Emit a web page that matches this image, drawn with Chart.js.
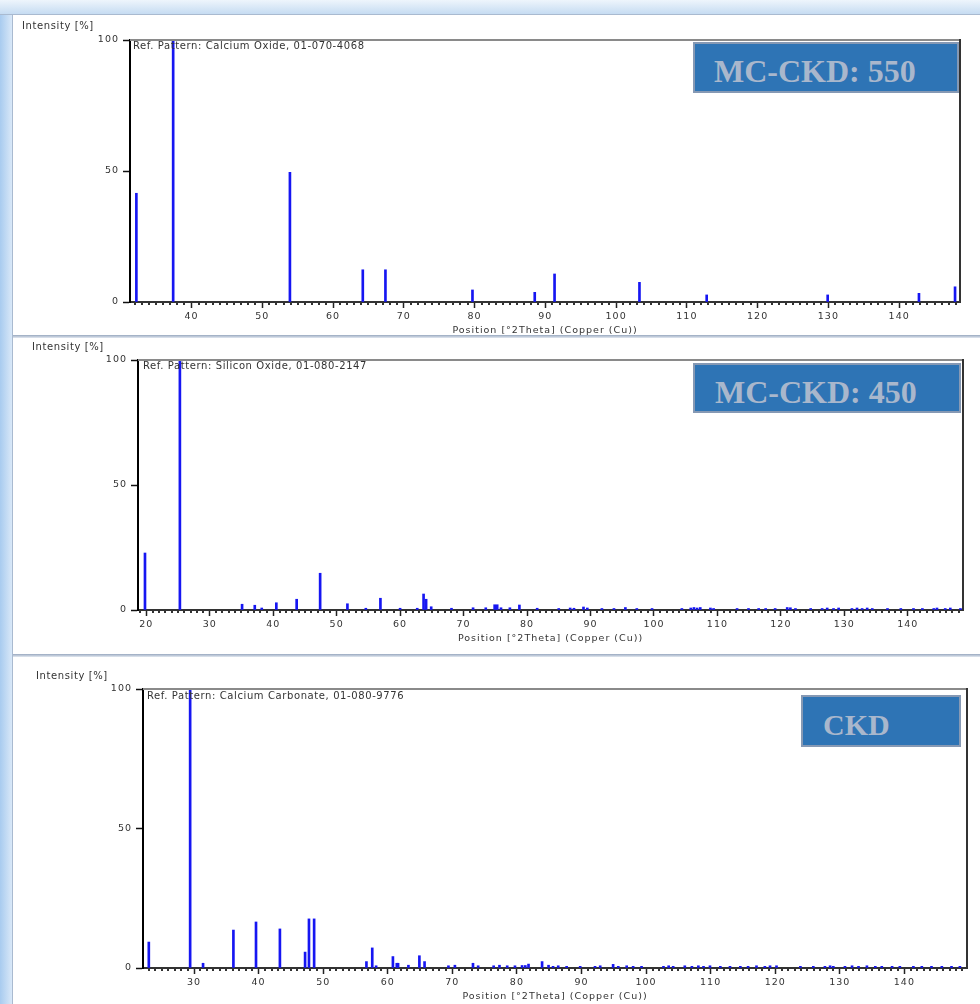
<!DOCTYPE html>
<html>
<head>
<meta charset="utf-8">
<script src="https://cdn.jsdelivr.net/npm/chart.js@4.4.1/dist/chart.umd.min.js"></script>
<style>
html, body { margin: 0; padding: 0; background: #fff; }
body { width: 980px; height: 1004px; position: relative; overflow: hidden; font-family: "DejaVu Sans", sans-serif; }
.frame-left { position: absolute; left: 0; top: 0; width: 12px; height: 1004px; background: linear-gradient(to right, #a8cbef, #d9e8f8); border-right: 1px solid #a9bad0; }
.frame-top { position: absolute; left: 0; top: 0; width: 980px; height: 14px; background: linear-gradient(to bottom, #eef5fc, #c6dcf2); border-bottom: 1px solid #a9bad0; }
.sep { position: absolute; left: 13px; width: 967px; height: 3px; background: linear-gradient(#98a8bf, #e3e9f1); }
canvas { position: absolute; left: 0; }
.lbl { position: absolute; font-size: 10px; line-height: 12px; letter-spacing: 0.6px; color: #333; white-space: nowrap; }
.box { position: absolute; background: #2e74b5; border: 2px solid #8699b4; box-sizing: border-box; }
.box span { position: absolute; white-space: nowrap; color: #a9b7cc; font-family: "Liberation Serif", serif; font-weight: bold; }
</style>
</head>
<body>
<div class="frame-left"></div>
<div class="frame-top"></div>
<div class="sep" style="top:335px"></div>
<div class="sep" style="top:654px"></div>

<canvas id="c1"></canvas>
<canvas id="c2"></canvas>
<canvas id="c3"></canvas>

<div class="lbl" style="left:22px;top:20px">Intensity [%]</div>
<div class="lbl" style="left:32px;top:341px">Intensity [%]</div>
<div class="lbl" style="left:36px;top:670px">Intensity [%]</div>

<div class="lbl" style="left:133px;top:40px">Ref. Pattern: Calcium Oxide, 01-070-4068</div>
<div class="lbl" style="left:143px;top:360px">Ref. Pattern: Silicon Oxide, 01-080-2147</div>
<div class="lbl" style="left:147px;top:690px">Ref. Pattern: Calcium Carbonate, 01-080-9776</div>

<div class="box" style="left:693px;top:42px;width:266px;height:51px"><span style="left:19px;top:11px;font-size:32px;line-height:32px">MC-CKD: 550</span></div>
<div class="box" style="left:693px;top:363px;width:268px;height:50px"><span style="left:20px;top:11px;font-size:32px;line-height:32px">MC-CKD: 450</span></div>
<div class="box" style="left:801px;top:695px;width:160px;height:52px"><span style="left:20px;top:13px;font-size:30px;line-height:30px">CKD</span></div>

<script>
// Calcium Oxide (MC-CKD 550)
const p1Pos = [32.2, 37.4, 53.9, 64.2, 67.4, 79.7, 88.5, 91.3, 103.3, 112.8, 129.9, 142.8, 147.9];
const p1Int = [41.5, 100, 49.5, 12.3, 12.3, 4.6, 3.7, 10.7, 7.5, 2.7, 2.7, 3.3, 5.8];
const p1Range = [31.3, 148.6];
const p1Ticks = [40, 50, 60, 70, 80, 90, 100, 110, 120, 130, 140];

// Silicon Oxide (MC-CKD 450)
const p2Pos = [19.8, 25.3, 35.1, 37.1, 38.2, 40.5, 43.7, 47.4, 51.7, 54.6, 56.9, 60.0, 62.7, 63.7, 64.1, 64.9,
  68.1, 71.5, 73.5, 74.9, 75.3, 75.9, 77.3, 78.8, 81.6,
  85.0, 86.8, 87.4, 88.9, 89.5, 91.8, 93.7, 95.5, 97.3, 99.7,
  104.4, 105.8, 106.3, 106.8, 107.3, 108.9, 109.4,
  113.1, 114.9, 116.5, 117.6, 119.1,
  121.0, 121.5, 122.3, 124.7,
  126.5, 127.3, 128.3, 129.1,
  131.2, 132.0, 132.8, 133.6, 134.4,
  136.8, 138.9, 140.9, 142.3,
  144.1, 144.6, 145.9, 146.7, 148.3];
const p2Int = [22.8, 100, 2.3, 1.9, 0.8, 2.9, 4.3, 14.7, 2.5, 0.7, 4.7, 0.7, 0.7, 6.4, 4.3, 1.3,
  0.7, 0.9, 0.9, 2.1, 2.1, 0.9, 0.9, 2.0, 0.7,
  0.6, 0.8, 0.7, 1.2, 0.8, 0.6, 0.6, 1.0, 0.6, 0.6,
  0.6, 0.8, 1.0, 0.8, 1.0, 0.8, 0.6,
  0.6, 0.6, 0.6, 0.6, 0.6,
  1.0, 0.9, 0.6, 0.6,
  0.6, 0.8, 0.6, 0.8,
  0.6, 0.8, 0.6, 0.8, 0.6,
  0.6, 0.6, 0.6, 0.6,
  0.6, 0.8, 0.6, 0.8, 0.6];
const p2Range = [18.7, 148.7];
const p2Ticks = [20, 30, 40, 50, 60, 70, 80, 90, 100, 110, 120, 130, 140];

// Calcium Carbonate (CKD)
const p3Pos = [23.0, 29.4, 31.4, 36.1, 39.6, 43.3, 47.2, 47.8, 48.6, 56.7, 57.6, 58.2, 60.8, 61.4, 61.6, 63.2, 64.9, 65.7,
  69.4, 70.4, 73.2, 74.0, 76.4, 77.3, 78.5, 79.7, 80.8, 81.3, 81.8, 83.9, 84.9,
  85.6, 86.4, 87.7, 89.8, 92.1, 92.9, 94.9, 95.7, 97.0, 98.0,
  99.3, 102.7, 103.5, 104.2, 106.0, 107.1, 108.1, 108.9, 109.9, 111.5,
  113.0, 114.6, 115.8, 117.1, 118.4, 119.2, 120.2, 123.9, 125.9, 127.7,
  128.5, 129.0, 130.8, 131.9, 132.9, 134.2, 135.5, 136.5, 138.1, 139.3,
  141.4, 142.7, 144.2, 145.8, 147.3, 148.6];
const p3Int = [9.3, 100, 1.7, 13.6, 16.5, 14.0, 5.7, 17.6, 17.6, 2.3, 7.2, 0.8, 4.1, 1.7, 1.7, 1.0, 4.4, 2.3,
  0.8, 1.0, 1.7, 0.8, 0.8, 1.0, 0.8, 0.8, 0.9, 0.9, 1.4, 2.3, 1.0,
  0.6, 0.8, 0.6, 0.6, 0.6, 0.8, 1.3, 0.6, 0.8, 0.6,
  0.6, 0.6, 0.8, 0.6, 0.8, 0.6, 0.8, 0.6, 0.8, 0.6,
  0.6, 0.6, 0.6, 0.8, 0.6, 0.8, 0.8, 0.6, 0.6, 0.6,
  0.8, 0.6, 0.6, 0.8, 0.6, 0.8, 0.6, 0.6, 0.6, 0.6,
  0.6, 0.6, 0.6, 0.6, 0.6, 0.6];
const p3Range = [22.1, 149.7];
const p3Ticks = [30, 40, 50, 60, 70, 80, 90, 100, 110, 120, 130, 140];

const yTicks = [0, 50, 100];
const xTitle = 'Position [°2Theta] (Copper (Cu))';

// where each panel sits on the page
const panels = [
  { id: 'c1', top: 15,  height: 320, plotLeft: 130, plotRight: 960, plotTop: 40,  plotBottom: 302, pos: p1Pos, int: p1Int, range: p1Range, ticks: p1Ticks },
  { id: 'c2', top: 338, height: 316, plotLeft: 138, plotRight: 963, plotTop: 360, plotBottom: 610, pos: p2Pos, int: p2Int, range: p2Range, ticks: p2Ticks },
  { id: 'c3', top: 657, height: 347, plotLeft: 143, plotRight: 967, plotTop: 689, plotBottom: 968, pos: p3Pos, int: p3Int, range: p3Range, ticks: p3Ticks }
];

const X_AXIS_H = 34;

// plot frame + small minor ticks along the x axis
const framePlugin = {
  id: 'frame',
  beforeDraw(chart) {
    chart.ctx.letterSpacing = '1px';
  },
  afterDraw(chart) {
    const { ctx, chartArea: a } = chart;
    const x = chart.scales.x;
    ctx.save();
    ctx.lineWidth = 2;
    ctx.strokeStyle = '#8a8a8a';
    ctx.beginPath(); ctx.moveTo(a.left, a.top); ctx.lineTo(a.right, a.top); ctx.stroke();
    ctx.strokeStyle = '#333';
    ctx.beginPath(); ctx.moveTo(a.right, a.top - 1); ctx.lineTo(a.right, a.bottom); ctx.stroke();
    ctx.fillStyle = '#333';
    for (let v = Math.ceil(x.min); v <= x.max; v++) {
      if (v % 10 === 0) continue;
      const px = x.getPixelForValue(v);
      ctx.fillRect(Math.round(px) - 1, a.bottom + 1, 2, 2);
    }
    ctx.restore();
  }
};

const tickFont = { family: 'DejaVu Sans', size: 9.5 };

panels.forEach(p => {
  const canvas = document.getElementById(p.id);
  canvas.style.top = p.top + 'px';
  canvas.width = 980;
  canvas.height = p.height;

  new Chart(canvas, {
    type: 'bar',
    data: {
      datasets: [{
        data: p.pos.map((v, i) => ({ x: v, y: p.int[i] })),
        backgroundColor: '#1616f2',
        borderWidth: 0,
        barThickness: 2
      }]
    },
    options: {
      responsive: false,
      animation: false,
      devicePixelRatio: 1,
      layout: {
        padding: {
          left: 0,
          right: 980 - p.plotRight,
          top: p.plotTop - p.top,
          bottom: p.height - (p.plotBottom - p.top) - X_AXIS_H
        }
      },
      plugins: {
        legend: { display: false },
        tooltip: { enabled: false }
      },
      scales: {
        x: {
          type: 'linear',
          offset: false,
          min: p.range[0],
          max: p.range[1],
          afterBuildTicks: s => { s.ticks = p.ticks.map(v => ({ value: v })); },
          grid: { offset: false, drawOnChartArea: false, tickLength: 6, tickColor: '#222', tickWidth: 1.5 },
          border: { color: '#333', width: 2 },
          ticks: {
            autoSkip: false,
            maxRotation: 0,
            padding: 3,
            color: '#333',
            font: tickFont
          },
          title: { display: true, text: xTitle, padding: 0, color: '#333', font: tickFont },
          afterFit: s => { s.height = X_AXIS_H; }
        },
        y: {
          min: 0,
          max: 100,
          afterBuildTicks: s => { s.ticks = yTicks.map(v => ({ value: v })); },
          grid: { drawOnChartArea: false, tickLength: 7, tickColor: '#111', tickWidth: 1.5 },
          border: { color: '#000', width: 2 },
          ticks: { padding: 4, color: '#333', font: tickFont },
          afterFit: s => { s.width = p.plotLeft; }
        }
      }
    },
    plugins: [framePlugin]
  });
});
</script>
</body>
</html>
